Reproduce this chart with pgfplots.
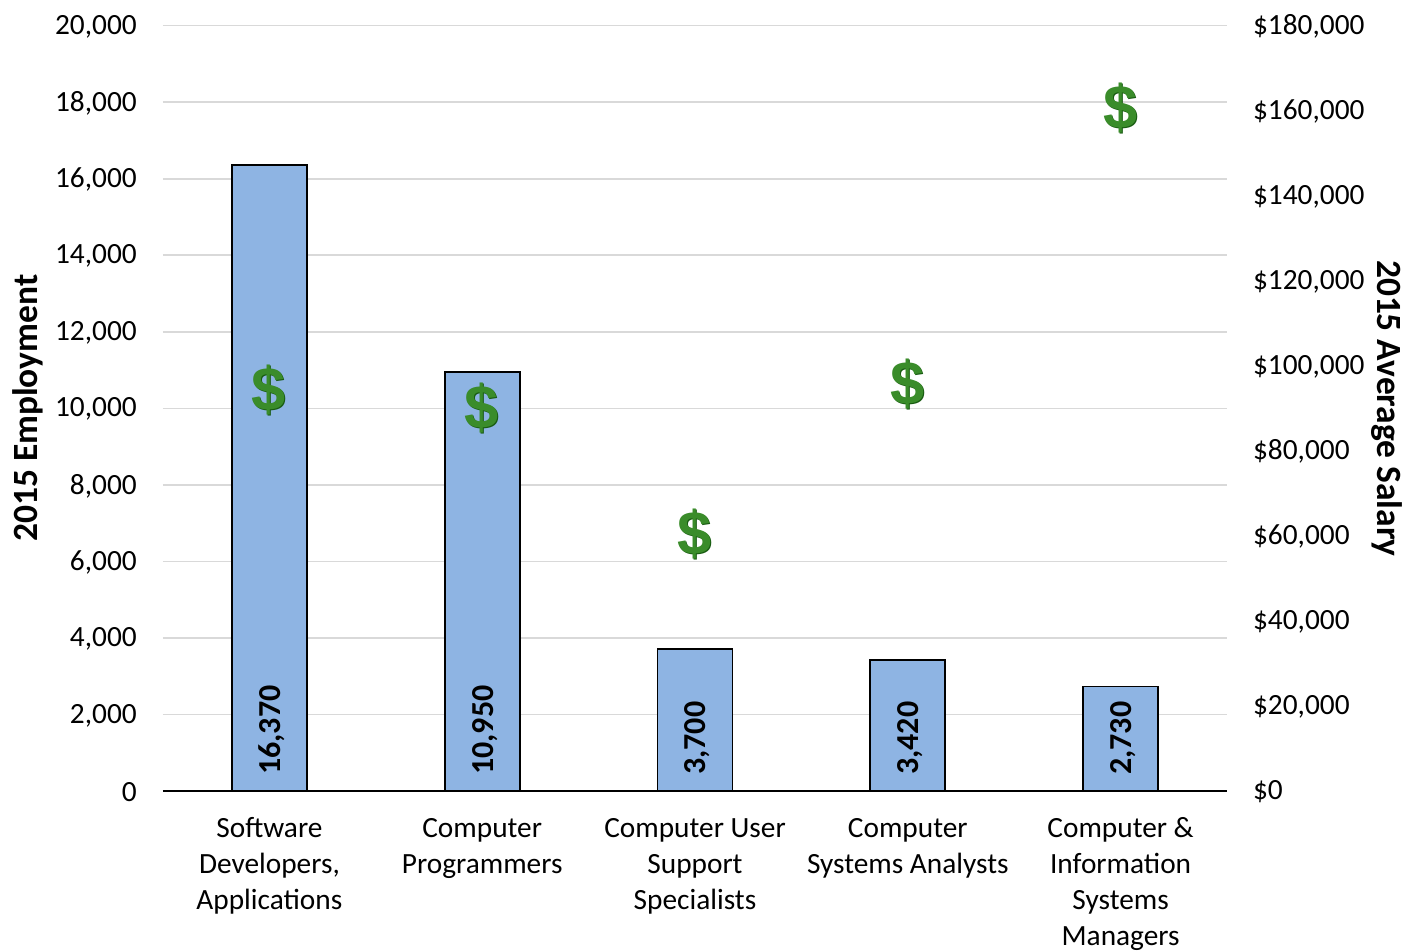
\documentclass[border=0pt]{standalone}
\usepackage{pgfplots}
\pgfplotsset{compat=1.18}
\usepackage{fontspec}
\setmainfont{Carlito}
\newfontfamily\dollarfont{Liberation Sans}
\definecolor{barblue}{HTML}{8EB4E3}
\definecolor{gridgray}{HTML}{D9D9D9}
\definecolor{dollarA}{HTML}{3A8C2A}
\definecolor{dollarB}{HTML}{175A10}
\newcommand{\tickfont}{\fontsize{22}{27}\selectfont}
\newcommand{\datafont}{\fontsize{24}{28}\selectfont\bfseries}
\newcommand{\labelfont}{\fontsize{26.6}{30}\selectfont\bfseries}
\begin{document}
\begin{tikzpicture}
\path[use as bounding box] (-122.25pt,-119.25pt) rectangle (929.25pt,593.25pt);
\begin{axis}[
  at={(0,0)}, anchor=south west, scale only axis,
  width=798pt, height=574pt,
  xmin=-0.5, xmax=4.5, ymin=0, ymax=20000,
  axis x line=bottom, axis y line=left,
  x axis line style={black,line width=1.3pt,-},
  y axis line style={draw=none},
  xtick={0,1,2,3,4},
  xticklabels={{\strut Software\\Developers,\\Applications},{\strut Computer\\Programmers},{\strut Computer User\\Support\\Specialists},{\strut Computer\\Systems Analysts},{\strut Computer \&\\Information\\Systems\\Managers}},
  xticklabel style={font=\tickfont,align=center,yshift=-10pt},
  ytick={0,2000,...,20000},
  scaled y ticks=false,
  yticklabel style={font=\tickfont,xshift=-14pt,yshift=-0.75pt,/pgf/number format/fixed,/pgf/number format/1000 sep={,},/pgf/number format/assume math mode=true},
  tick style={draw=none},
  ymajorgrids, grid style={gridgray,line width=1.2pt},
  ylabel={2015 Employment},
  ylabel style={font=\labelfont,at={(axis description cs:-0.1272,0.5)},anchor=center},
]
\addplot[ybar,bar width=56.3pt,bar shift=0pt,fill=barblue,draw=black,line width=1.4pt] table[x=x,y=y] {
x y
0 16370
1 10950
2 3700
3 3420
4 2730
};
\addplot[draw=none,mark=none,nodes near coords,point meta=explicit symbolic,
  every node near coord/.style={font=\datafont,rotate=90,anchor=west,inner sep=0pt,xshift=12pt,yshift=-2pt}]
  table[x=x,y=y,meta=v] {
x y v
0 0 16,370
1 0 10,950
2 0 3,700
3 0 3,420
4 0 2,730
};
\end{axis}
\begin{axis}[
  at={(0,0)}, anchor=south west, scale only axis,
  width=798pt, height=574pt,
  xmin=-0.5, xmax=4.5, ymin=0, ymax=180000,
  axis x line=none, axis y line*=right,
  y axis line style={draw=none},
  ytick={0,20000,...,180000},
  yticklabel style={font=\tickfont,anchor=west,xshift=16pt,yshift=-0.75pt},
  yticklabel={\$\pgfmathprintnumber[assume math mode=true,1000 sep={,},fixed]{\tick}},
  scaled y ticks=false,
  tick style={draw=none},
  ylabel={2015 Average Salary},
  ylabel style={font=\labelfont,at={(axis description cs:1.150,0.5)},anchor=center,rotate=180},
]
\addplot[only marks,mark=text,text mark={\$},text mark as node=true,text mark style={font=\dollarfont\bfseries\fontsize{46}{46}\selectfont,text=dollarB,inner sep=0pt,xshift=0.4pt,yshift=-2pt}]
  table[x=x,y=y] {
x y
0 94800
1 90500
2 60900
3 96200
4 161000
};
\addplot[only marks,mark=text,text mark={\$},text mark as node=true,text mark style={font=\dollarfont\bfseries\fontsize{46}{46}\selectfont,text=dollarA,inner sep=0pt,xshift=-0.4pt,yshift=-1.2pt}]
  table[x=x,y=y] {
x y
0 94800
1 90500
2 60900
3 96200
4 161000
};
\end{axis}
\end{tikzpicture}
\end{document}
